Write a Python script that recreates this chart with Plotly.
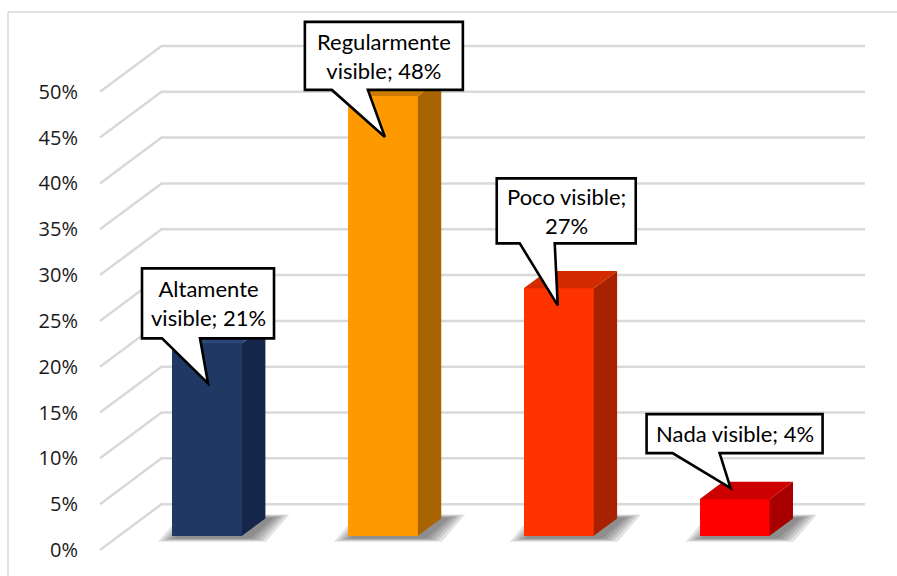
import plotly.graph_objects as go

# ---- data ----
categories = ["Altamente visible", "Regularmente visible", "Poco visible", "Nada visible"]
values = [21, 48, 27, 4]
tick_values = [0, 5, 10, 15, 20, 25, 30, 35, 40, 45, 50]

# ---- styling ----
front_colors = ["#203864", "#ff9900", "#ff3300", "#ff0000"]
side_colors = ["#15264a", "#a86400", "#a82100", "#a80000"]
top_colors = ["#2b4878", "#cc7a00", "#d42a00", "#cc0000"]
grid_color = "#d9d9d9"

W, H = 897, 576
SX = 175.86          # px per category unit
SY = 9.164           # px per percent point
ORIGIN_X, ORIGIN_Y = 100, 550   # pixel position of the front-plane origin
PLOT_L, PLOT_R, PLOT_T, PLOT_B = 92, 870, 8, 568

DX = 0.35            # depth of the floor, in category units
DY = 5.0             # depth of the floor, in percent units
F1, F2 = 0.31, 0.69  # front/back depth fraction of the columns
BAR_W = 70 / SX

x_range = [(PLOT_L - ORIGIN_X) / SX, (PLOT_R - ORIGIN_X) / SX]
y_range = [(ORIGIN_Y - PLOT_B) / SY, (ORIGIN_Y - PLOT_T) / SY]

fig = go.Figure()
shapes = []
annotations = []

# perspective gridlines: diagonal on the side wall, then across the back wall
for v in tick_values:
    shapes.append(dict(type="path", xref="x", yref="y", layer="below",
                       path=f"M 0,{v} L {DX},{v + DY} L {len(categories) + DX},{v + DY}",
                       line=dict(color=grid_color, width=2.5)))

dxb = (F2 - F1) * DX
dyb = (F2 - F1) * DY
yb = F1 * DY

# soft floor shadows under the columns
for i, v in enumerate(values):
    c = i + 0.5
    x0 = c - BAR_W / 2 + F1 * DX
    x1 = x0 + BAR_W
    for k in range(5):
        ex = (5 - k) * 3.8 / SX
        ey = (5 - k) * 0.8 / SY
        sh = 5 / SX
        pts = [(x0 - ex + sh, yb - ey - 0.2), (x1 + ex + sh, yb - ey - 0.2),
               (x1 + dxb + ex + sh, yb + dyb + ey), (x0 + dxb - ex + sh, yb + dyb + ey)]
        path = "M " + " L ".join(f"{a},{b}" for a, b in pts) + " Z"
        shapes.append(dict(type="path", xref="x", yref="y", layer="below", path=path,
                           fillcolor="rgba(30,30,30,0.13)", line=dict(width=0)))

# front faces of the columns
centers = [i + 0.5 + F1 * DX for i in range(len(categories))]
fig.add_trace(go.Bar(x=centers, y=values, base=yb, width=BAR_W,
                     marker=dict(color=front_colors, line=dict(width=0)),
                     hoverinfo="skip", showlegend=False))

# side and top faces
for i, v in enumerate(values):
    c = i + 0.5
    x0 = c - BAR_W / 2 + F1 * DX
    x1 = x0 + BAR_W
    yt = yb + v
    fig.add_trace(go.Scatter(
        x=[x1, x1 + dxb, x1 + dxb, x1, x1],
        y=[yb, yb + dyb, yt + dyb, yt, yb],
        mode="lines", fill="toself", fillcolor=side_colors[i], line=dict(width=0),
        hoverinfo="skip", showlegend=False))
    fig.add_trace(go.Scatter(
        x=[x0, x1, x1 + dxb, x0 + dxb, x0],
        y=[yt, yt, yt + dyb, yt + dyb, yt],
        mode="lines", fill="toself", fillcolor=top_colors[i], line=dict(width=0),
        hoverinfo="skip", showlegend=False))

# callout data labels (offsets in px from the column's front-top centre)
callouts = [
    dict(box=(-65, 67, -75, -5), base=(-45, -7), tip=(1, 40), brk="word"),
    dict(box=(-78, 80, -74, -6), base=(-51, -15), tip=(2, 41), brk="word"),
    dict(box=(-62, 77, -110, -45), base=(-39, -4), tip=(-1, 17), brk="value"),
    dict(box=(-88, 88, -85, -46), base=(-62, -15), tip=(-4, -11), brk=None),
]

for i, (cat, v) in enumerate(zip(categories, values)):
    co = callouts[i]
    cx = centers[i]
    cy = yb + v

    def px(dx):
        return cx + dx / SX

    def py(dy):
        return cy - dy / SY

    L, R, T, B = co["box"]
    bl, br = co["base"]
    tx, ty = co["tip"]
    path = (f"M {px(L)},{py(T)} L {px(R)},{py(T)} L {px(R)},{py(B)} "
            f"L {px(br)},{py(B)} L {px(tx)},{py(ty)} L {px(bl)},{py(B)} "
            f"L {px(L)},{py(B)} Z")
    shapes.append(dict(type="path", path=path, xref="x", yref="y",
                       fillcolor="white", line=dict(color="black", width=2.6),
                       layer="above"))

    first, rest = cat.split(" ", 1)
    if co["brk"] == "word":
        text = f"{first}<br>{rest}; {v}%"
    elif co["brk"] == "value":
        text = f"{cat};<br>{v}%"
    else:
        text = f"{cat}; {v}%"
    annotations.append(dict(x=px((L + R) / 2), y=py((T + B) / 2), xref="x", yref="y",
                            text=text, showarrow=False,
                            font=dict(family="Lato", size=22, color="black"),
                            align="center", yanchor="middle", xanchor="center"))

# outer chart frame (left and top edges visible)
fr_x = lambda p: (p - PLOT_L) / (PLOT_R - PLOT_L)
fr_y = lambda p: (PLOT_B - p) / (PLOT_B - PLOT_T)
shapes.append(dict(type="line", xref="paper", yref="paper",
                   x0=fr_x(8), x1=fr_x(8), y0=fr_y(12), y1=fr_y(600),
                   line=dict(color="#d9d9d9", width=1.5), layer="below"))
shapes.append(dict(type="line", xref="paper", yref="paper",
                   x0=fr_x(8), x1=fr_x(920), y0=fr_y(12), y1=fr_y(12),
                   line=dict(color="#d9d9d9", width=1.5), layer="below"))

fig.update_layout(
    width=W, height=H,
    margin=dict(l=PLOT_L, r=W - PLOT_R, t=PLOT_T, b=H - PLOT_B, pad=0),
    paper_bgcolor="white", plot_bgcolor="white",
    xaxis=dict(range=x_range, visible=False, fixedrange=True),
    yaxis=dict(range=y_range, tickvals=tick_values,
               ticktext=[f"{t}%" for t in tick_values],
               showgrid=False, zeroline=False, showline=False,
               ticks="outside", ticklen=9, tickcolor="rgba(0,0,0,0)",
               tickfont=dict(family="Open Sans", size=20, color="#1a1a1a"),
               fixedrange=True),
    shapes=shapes, annotations=annotations,
    bargap=0, showlegend=False,
)

fig.write_html("out.html")
